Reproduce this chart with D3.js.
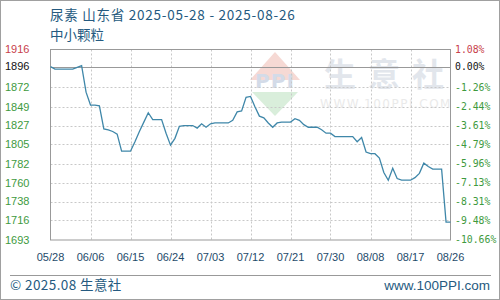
<!DOCTYPE html>
<html><head><meta charset="utf-8">
<script src="https://cdn.jsdelivr.net/npm/d3@7/dist/d3.min.js"></script>
<style>body{margin:0;background:#fff}svg{display:block}</style>
</head><body><svg id="c" width="500" height="300"></svg>
<script>
const titleLine1 = "尿素 山东省 2025-05-28 - 2025-08-26";
const titleLine2 = "中小颗粒";
const startDate = "2025-05-28";
const endDate = "2025-08-26";
const prices = [1896,1893,1893,1893,1893,1893,1895,1897,1866,1851,
  1851,1850,1823,1822,1820,1817,1797,1797,1797,1808,
  1820,1831,1842,1834,1834,1834,1818,1804,1812,1826,
  1827,1827,1827,1824,1829,1825,1829,1830,1830,1830,
  1830,1833,1843,1844,1860,1861,1849,1838,1836,1830,
  1825,1830,1831,1831,1831,1835,1833,1828,1825,1825,
  1825,1822,1818,1818,1814,1814,1814,1814,1814,1808,
  1813,1796,1794,1794,1789,1772,1763,1777,1765,1763,
  1763,1763,1766,1771,1783,1779,1776,1776,1776,1714,1714];
const baseValue = 1896;
const yTickValues = [1916,1896,1872,1849,1827,1805,1782,1760,1738,1716,1693];
const pctLabels = ["1.08%","0.00%","-1.26%","-2.44%","-3.61%","-4.79%","-5.96%","-7.13%","-8.31%","-9.48%","-10.66%"];
const xTickLabels = ["05/28","06/06","06/15","06/24","07/03","07/12","07/21","07/30","08/08","08/17","08/26"];

const svg = d3.select("#c");
const parse = d3.timeParse("%Y-%m-%d");
const t0 = parse(startDate), t1 = parse(endDate);
const data = prices.map((v,i)=>({date:d3.timeDay.offset(t0,i), v}));
const x = d3.scaleTime().domain([t0,t1]).range([50.5,450.5]);
const y = d3.scaleLinear().domain([1693,1916]).range([240,49.5]);
const xTickDates = xTickLabels.map((_,i)=>d3.timeDay.offset(t0,i*9));

// outer frame
svg.append("rect").attr("x",0.5).attr("y",0.5).attr("width",499).attr("height",299)
  .attr("fill","#fff").attr("stroke","#a0a0a0");

// titles
const tf = "'Noto Sans CJK SC','DejaVu Sans',sans-serif";
svg.append("text").attr("x",50).attr("y",20).attr("font-family",tf).attr("font-size",13.5)
  .attr("letter-spacing",0.75).attr("fill","#255a80").text(titleLine1);
svg.append("text").attr("x",50).attr("y",40).attr("font-family",tf).attr("font-size",13.5)
  .attr("fill","#255a80").text(titleLine2);

// watermark
const wm = svg.append("g");
wm.append("path").attr("d","M275,52 L300,80 L250,80 Z").attr("fill","#f6d9d4");
wm.append("path").attr("d","M252,92 L298,92 L275,116 Z").attr("fill","#d9eedb");
wm.append("text").attr("x",275).attr("y",88).attr("text-anchor","middle")
  .attr("font-family","'DejaVu Sans',sans-serif").attr("font-weight","bold").attr("font-size",20)
  .attr("fill","#d3dbe8").attr("letter-spacing",1).text("PPI");
["生","意","社"].forEach((c,i)=>{
  wm.append("text").attr("x",340+i*44).attr("y",86).attr("text-anchor","middle")
    .attr("font-family",tf).attr("font-weight","bold").attr("font-size",32)
    .attr("fill","#e2e6ec").text(c);
});
wm.append("text").attr("x",386).attr("y",108).attr("text-anchor","middle")
  .attr("font-family","'DejaVu Sans',sans-serif").attr("font-size",12)
  .attr("fill","#eaeaea").attr("letter-spacing",1.5).text("WWW.100PPI.COM");

// grid
const g = svg.append("g");
g.selectAll(".hg").data(yTickValues.filter(v=>v!==1916 && v!==1693 && v!==baseValue)).join("line")
  .attr("x1",50.5).attr("x2",450.5).attr("y1",d=>Math.round(y(d))+0.5).attr("y2",d=>Math.round(y(d))+0.5)
  .attr("stroke","#c8c8c8").attr("stroke-dasharray","2,2");
g.selectAll(".vg").data(xTickDates.slice(1,-1)).join("line")
  .attr("y1",49.5).attr("y2",240).attr("x1",d=>Math.round(x(d))+0.5).attr("x2",d=>Math.round(x(d))+0.5)
  .attr("stroke","#c8c8c8").attr("stroke-dasharray","2,2");
// base line
g.append("line").attr("x1",50.5).attr("x2",450.5)
  .attr("y1",Math.round(y(baseValue))+0.5).attr("y2",Math.round(y(baseValue))+0.5)
  .attr("stroke","#999").attr("stroke-width",1);
// plot frame
g.append("rect").attr("x",50.5).attr("y",49.5).attr("width",400).attr("height",190.5)
  .attr("fill","none").attr("stroke","#999");

// line
svg.append("path").datum(data).attr("fill","none").attr("stroke","#3f87a9").attr("stroke-width",1.3)
  .attr("d",d3.line().x(d=>x(d.date)).y(d=>y(d.v)));

// left labels
const lf = "'Liberation Sans',Arial,sans-serif";
const colorFor = (i)=> i===0 ? "#c8414b" : (i===1 ? "#111" : "#3e9a3e");
svg.selectAll(".yl").data(yTickValues).join("text")
  .attr("x",5).attr("y",d=>y(d)).attr("dy","0.35em").attr("font-family",lf).attr("font-size",11)
  .attr("fill",(d,i)=>colorFor(i)).text(d=>d);
svg.selectAll(".pl").data(pctLabels).join("text")
  .attr("x",455).attr("y",(d,i)=>y(yTickValues[i])).attr("dy","0.35em").attr("font-family","'DejaVu Sans Mono',monospace")
  .attr("font-size",9.8).attr("fill",(d,i)=>colorFor(i)).text(d=>d);

// x labels
svg.selectAll(".xl").data(xTickDates).join("text")
  .attr("x",d=>x(d)).attr("y",257).attr("dy","0.35em").attr("text-anchor","middle")
  .attr("font-family",lf).attr("font-size",11).attr("fill","#1e4a6a")
  .text((d,i)=>xTickLabels[i]);

// footer
svg.append("line").attr("x1",10).attr("x2",491).attr("y1",275.5).attr("y2",275.5).attr("stroke","#999");
svg.append("text").attr("x",10).attr("y",290).attr("font-family",tf).attr("font-size",13.5)
  .attr("letter-spacing",0.4).attr("fill","#255a80").text("© 2025.08 生意社");
svg.append("text").attr("x",490).attr("y",290).attr("text-anchor","end").attr("font-family",lf)
  .attr("font-size",13.5).attr("fill","#255a80").text("www.100PPI.com");
</script></body></html>
